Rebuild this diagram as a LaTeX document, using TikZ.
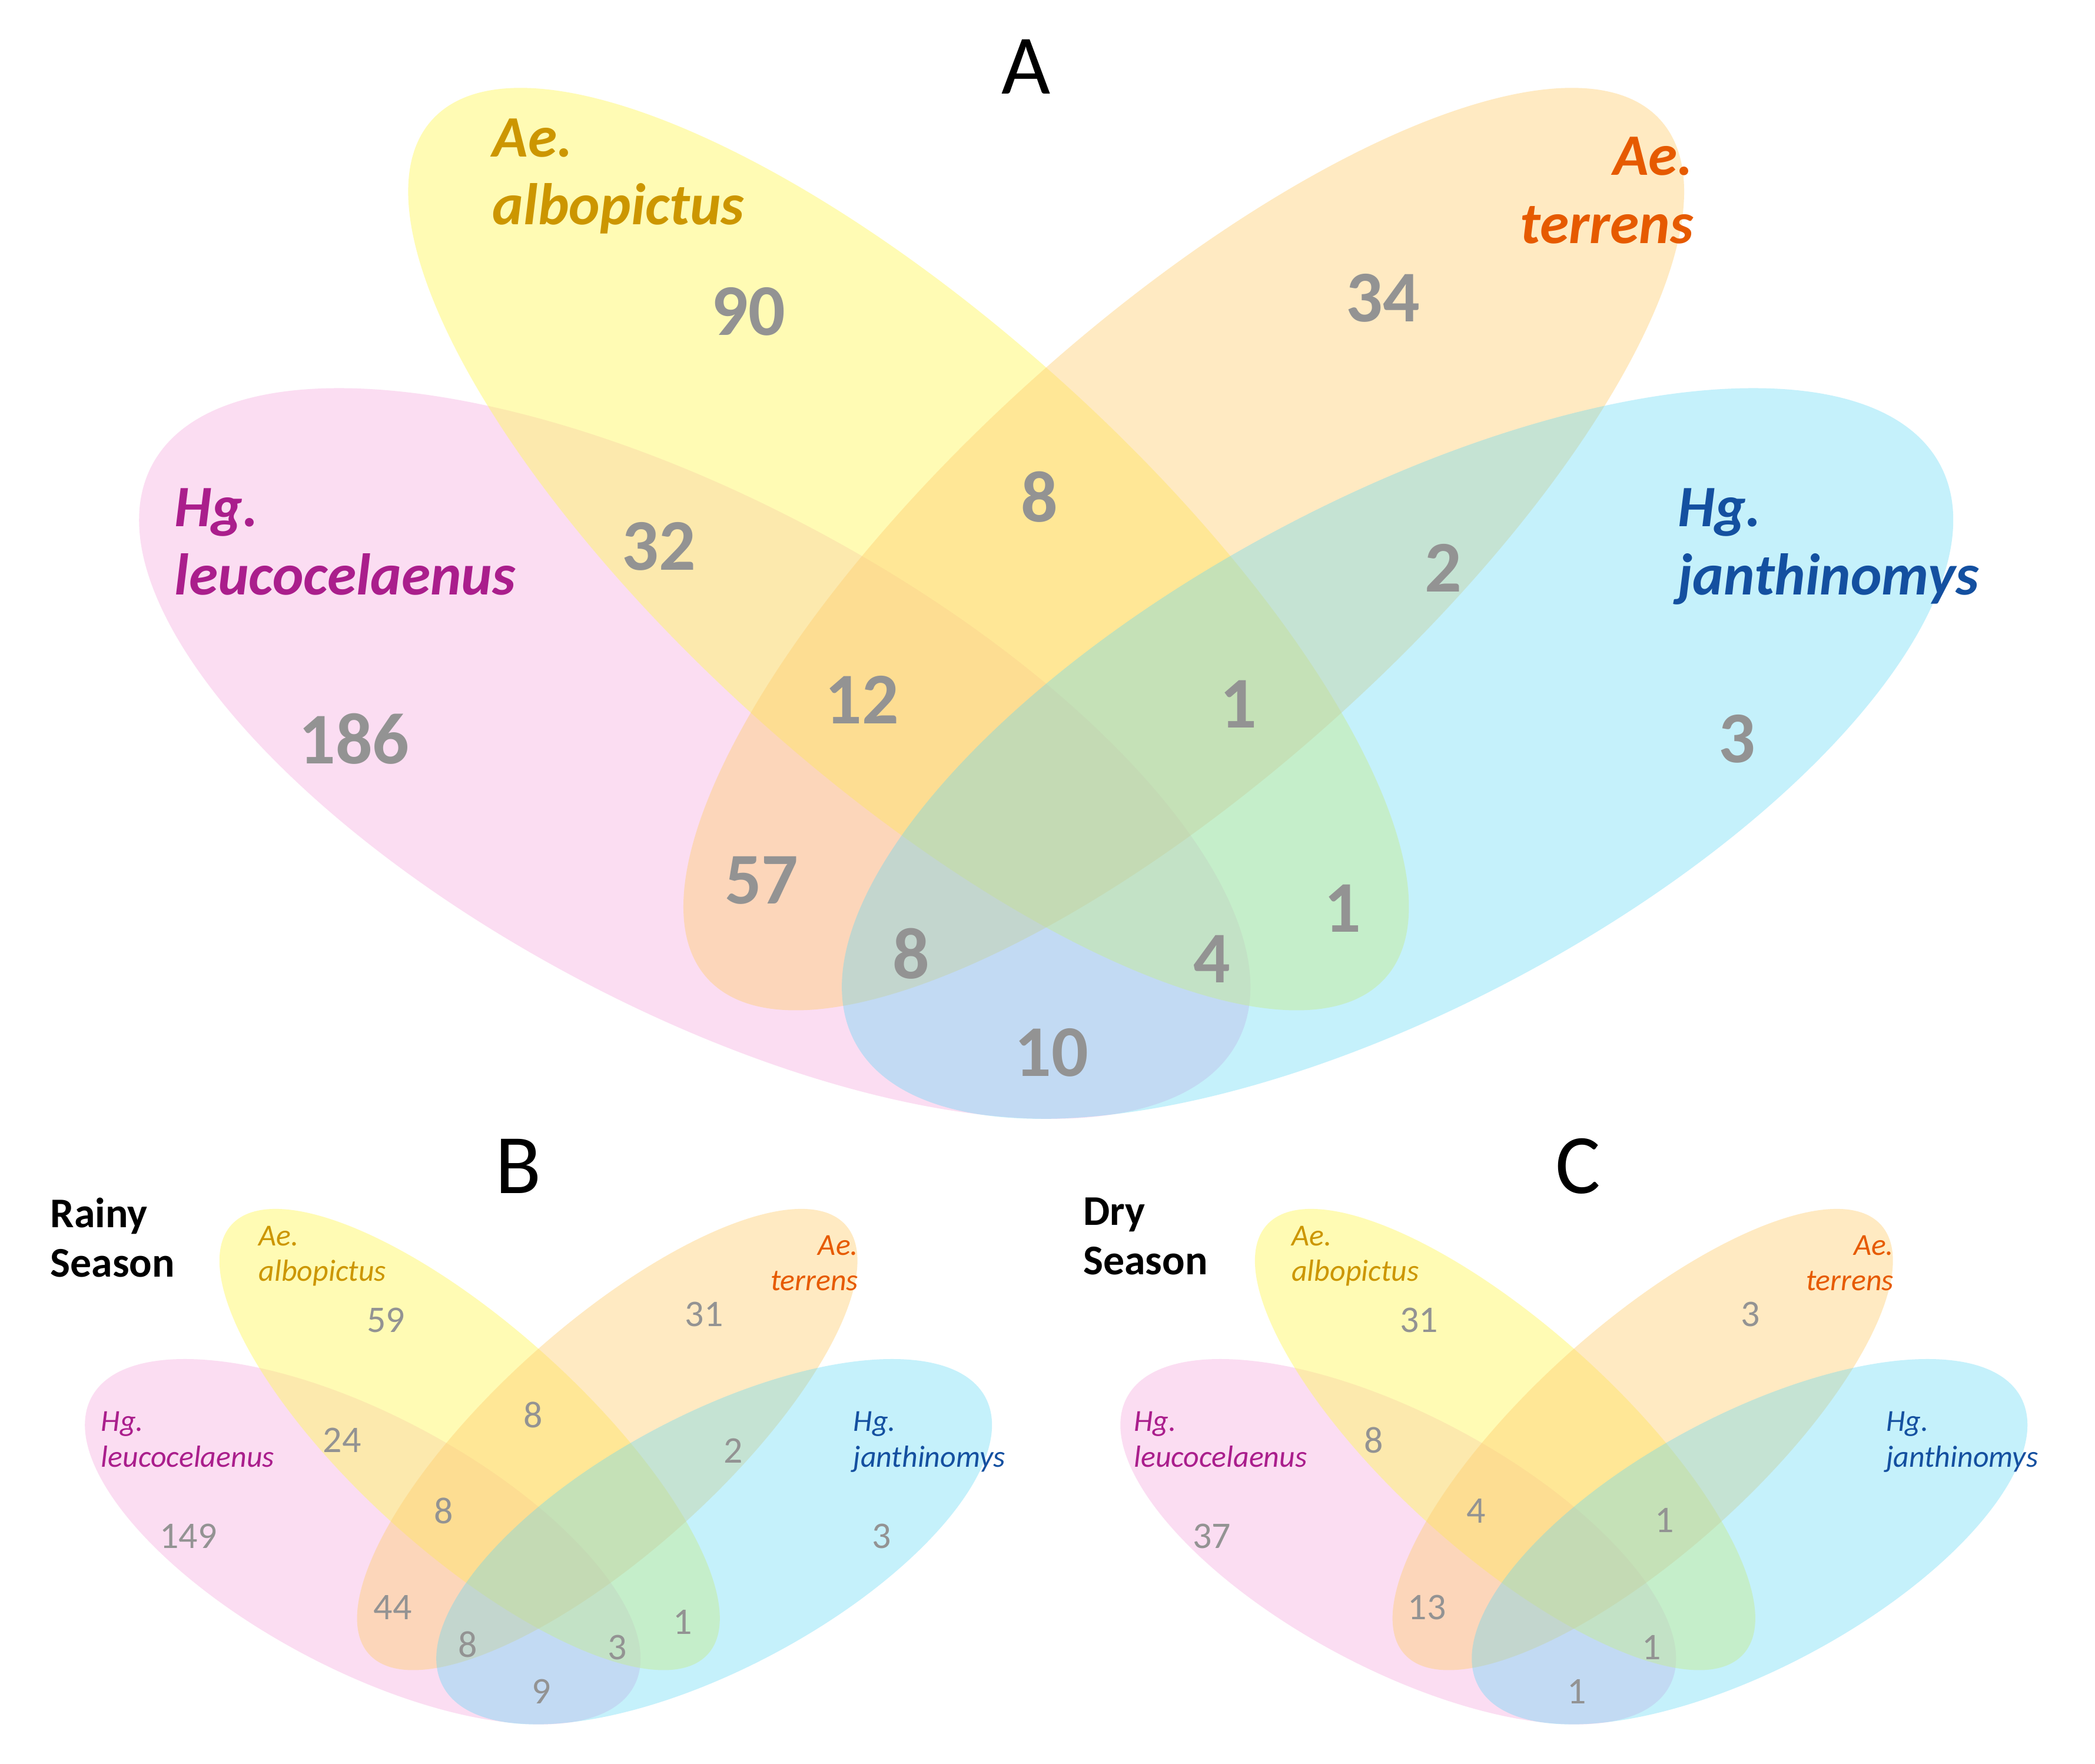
\documentclass[tikz,border=0pt]{standalone}
\usepackage{fontspec}
\setmainfont{Carlito}
\begin{document}
\begin{tikzpicture}[x=0.01cm,y=-0.01cm,
  num/.style={text=gray!85,font=\bfseries\fontsize{15.5}{16}\selectfont},
  snum/.style={text=gray!85,font=\fontsize{8}{9}\selectfont},
  lab/.style={font=\bfseries\itshape\fontsize{12.5}{14.5}\selectfont,align=left,anchor=north west,inner sep=0pt},
  slab/.style={font=\itshape\fontsize{6.5}{7.6}\selectfont,align=left,anchor=north west,inner sep=0pt},
  big/.style={font=\fontsize{18}{20}\selectfont},
  seas/.style={font=\bfseries\fontsize{9}{10.5}\selectfont,align=left,anchor=north west,inner sep=0pt}]
\definecolor{cpink}{RGB}{245,150,215}
\definecolor{cyel}{RGB}{255,248,90}
\definecolor{cora}{RGB}{255,205,110}
\definecolor{cblu}{RGB}{90,215,245}
\definecolor{lalb}{RGB}{204,150,0}
\definecolor{lter}{RGB}{230,90,0}
\definecolor{lleu}{RGB}{170,30,140}
\definecolor{ljan}{RGB}{20,80,160}
\newcommand{\myvenn}{%
 \fill[cpink,fill opacity=.32,rotate around={-28:(520,564)}] (520,564) ellipse [x radius=460,y radius=190];
 \fill[cyel,fill opacity=.45,rotate around={-42:(680,411)}] (680,411) ellipse [x radius=480,y radius=170];
 \fill[cora,fill opacity=.42,rotate around={42:(886,411)}] (886,411) ellipse [x radius=480,y radius=170];
 \fill[cblu,fill opacity=.35,rotate around={28:(1046,564)}] (1046,564) ellipse [x radius=460,y radius=190];}
\useasboundingbox (0,0) rectangle (1568,1320);
\fill[white] (0,0) rectangle (1568,1320);
\myvenn
\begin{scope}[shift={(11.5,872)},scale=0.5]\myvenn\end{scope}
\begin{scope}[shift={(786.5,872)},scale=0.5]\myvenn\end{scope}
% A
\node[big] (tA) at (768,50) {A};
\node[lab,text=lalb] (la1) at (368,88) {Ae.\\albopictus};
\node[lab,text=lter,align=right,anchor=north east] (la2) at (1268,102) {Ae.\\\hspace*{1em}terrens};
\node[lab,text=lleu] (la3) at (130,365) {Hg.\\leucocelaenus};
\node[lab,text=ljan] (la4) at (1255,365) {Hg.\\janthinomys};
\foreach \t/\x/\y [count=\i] in {90/560/233,34/1035/223,8/778/372,32/493/409,2/1080/425,12/645/524,1/927/527,186/265/553,3/1300/553,57/570/659,1/1005/680,8/682/714,4/907/718,10/787/788}
  \node[num] (na\i) at (\x,\y) {\t};
% B
\node[big] (tB) at (388,873) {B};
\node[seas] (sB) at (37,896) {Rainy\\Season};
\node[slab,text=lalb] (lb1) at (193,917) {Ae.\\albopictus};
\node[slab,text=lter,align=right,anchor=north east] (lb2) at (643,924) {Ae.\\\hspace*{1em}terrens};
\node[slab,text=lleu] (lb3) at (75,1056) {Hg.\\leucocelaenus};
\node[slab,text=ljan] (lb4) at (638,1056) {Hg.\\janthinomys};
\foreach \t/\x/\y [count=\i] in {59/289/988,31/527/984,8/399/1059,24/256/1078,2/549/1086,8/332/1131,149/141/1150,3/660/1150,44/294/1203,1/511/1214,8/350/1231,3/462/1233,9/405/1266}
  \node[snum] (nb\i) at (\x,\y) {\t};
% C
\node[big] (tC) at (1181,873) {C};
\node[seas] (sC) at (810,896) {Dry\\Season};
\node[slab,text=lalb] (lc1) at (966,917) {Ae.\\albopictus};
\node[slab,text=lter,align=right,anchor=north east] (lc2) at (1418,924) {Ae.\\\hspace*{1em}terrens};
\node[slab,text=lleu] (lc3) at (848,1056) {Hg.\\leucocelaenus};
\node[slab,text=ljan] (lc4) at (1411,1056) {Hg.\\janthinomys};
\foreach \t/\x/\y [count=\i] in {31/1062/988,3/1310/984,8/1028/1078,4/1105/1131,1/1246/1138,37/907/1150,13/1068/1203,1/1236/1233,1/1180/1266}
  \node[snum] (nc\i) at (\x,\y) {\t};
\end{tikzpicture}
\end{document}
